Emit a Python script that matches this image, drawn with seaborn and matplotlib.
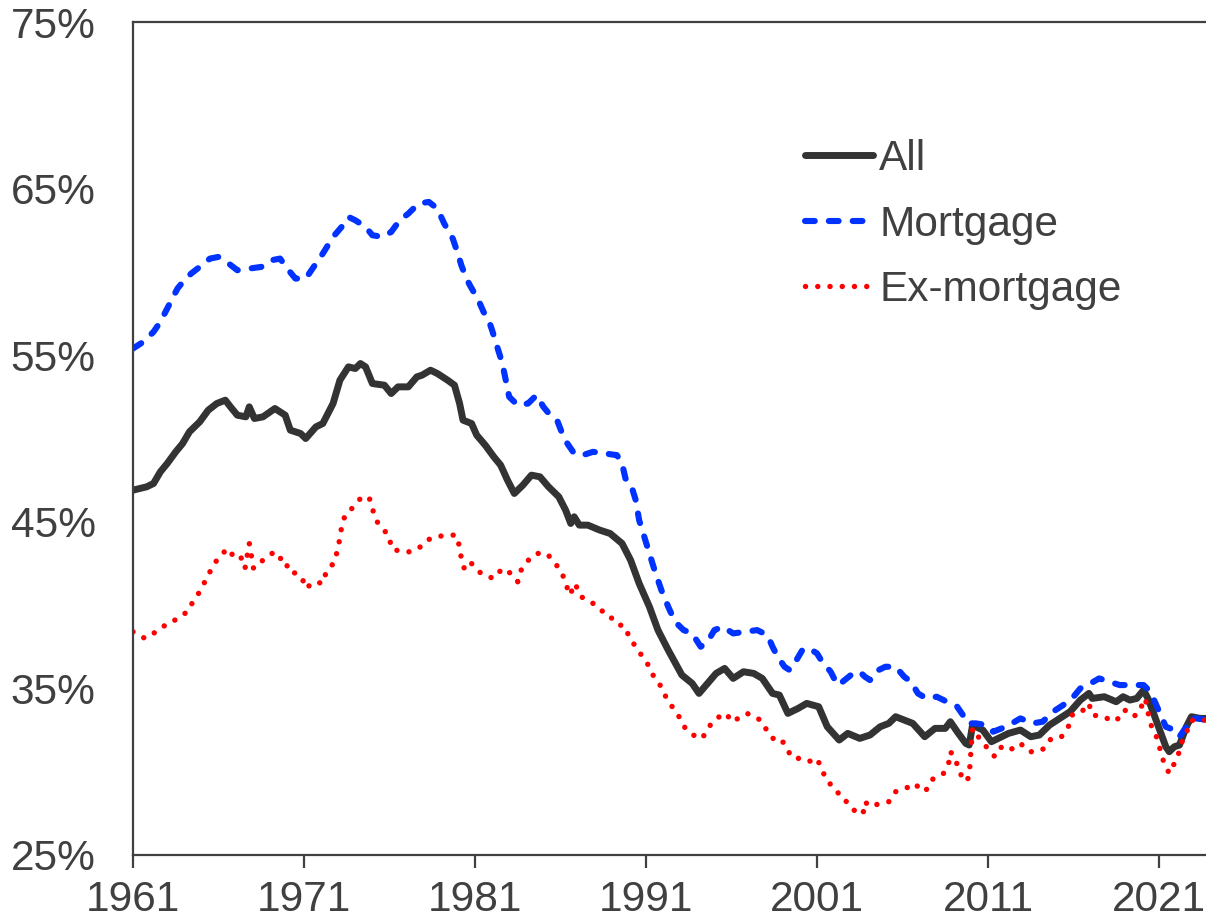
# Share of credit: all, mortgage and ex-mortgage, 1961-2023

import matplotlib
matplotlib.use('Agg')
import matplotlib.pyplot as plt
import seaborn as sns
import pandas as pd
from matplotlib.ticker import FuncFormatter

# --- data (percent) ---
all_x = [1961.0, 1961.8, 1962.2, 1962.6, 1963.0, 1963.5, 1963.9, 1964.3, 1964.9, 1965.4,
         1965.9, 1966.4, 1966.7, 1967.1, 1967.6, 1967.8, 1968.1, 1968.6, 1969.3, 1969.9,
         1970.2, 1970.8, 1971.1, 1971.7, 1972.1, 1972.7, 1973.1, 1973.6, 1974.0, 1974.3,
         1974.6, 1975.0, 1975.7, 1976.1, 1976.5, 1977.1, 1977.6, 1977.9, 1978.4, 1978.8,
         1979.4, 1979.8, 1980.1, 1980.3, 1980.8, 1981.1, 1981.6, 1982.1, 1982.5, 1982.9,
         1983.3, 1983.8, 1984.3, 1984.8, 1985.3, 1985.9, 1986.3, 1986.6, 1986.8, 1987.1,
         1987.6, 1988.3, 1988.9, 1989.6, 1990.1, 1990.6, 1991.2, 1991.7, 1992.3, 1993.1,
         1993.7, 1994.1, 1994.6, 1995.1, 1995.6, 1996.1, 1996.7, 1997.3, 1997.8, 1998.4,
         1998.8, 1999.3, 1999.9, 2000.4, 2001.1, 2001.6, 2002.3, 2002.8, 2003.5, 2004.1,
         2004.7, 2005.2, 2005.6, 2006.1, 2006.6, 2007.3, 2007.9, 2008.5, 2008.8, 2009.2,
         2009.7, 2009.9, 2010.1, 2010.7, 2011.2, 2011.8, 2012.2, 2012.9, 2013.5, 2014.0,
         2014.6, 2015.2, 2015.8, 2016.4, 2016.9, 2017.1, 2017.8, 2018.5, 2018.9, 2019.3,
         2019.7, 2020.1, 2020.4, 2020.9, 2021.4, 2021.6, 2021.9, 2022.2, 2022.6, 2022.9,
         2023.4, 2023.75]
all_v = [46.9, 47.1, 47.3, 48.0, 48.5, 49.2, 49.7, 50.4, 51.0, 51.7,
         52.1, 52.3, 51.9, 51.4, 51.3, 51.9, 51.2, 51.3, 51.8, 51.4,
         50.5, 50.3, 50.0, 50.7, 50.9, 52.1, 53.5, 54.3, 54.2, 54.5,
         54.3, 53.3, 53.2, 52.7, 53.1, 53.1, 53.7, 53.8, 54.1, 53.9,
         53.5, 53.2, 52.1, 51.1, 50.9, 50.2, 49.6, 48.9, 48.4, 47.5,
         46.7, 47.2, 47.8, 47.7, 47.1, 46.5, 45.7, 44.9, 45.3, 44.8,
         44.8, 44.5, 44.3, 43.7, 42.7, 41.3, 39.9, 38.5, 37.3, 35.8,
         35.3, 34.7, 35.3, 35.9, 36.2, 35.6, 36.0, 35.9, 35.6, 34.7,
         34.6, 33.5, 33.8, 34.1, 33.9, 32.7, 31.9, 32.3, 32.0, 32.2,
         32.7, 32.9, 33.3, 33.1, 32.9, 32.1, 32.6, 32.6, 33.0, 32.4,
         31.7, 31.6, 32.8, 32.5, 31.8, 32.1, 32.3, 32.5, 32.1, 32.2,
         32.8, 33.2, 33.6, 34.3, 34.7, 34.4, 34.5, 34.2, 34.5, 34.3,
         34.4, 34.9, 34.3, 32.9, 31.5, 31.2, 31.5, 31.6, 32.7, 33.3,
         33.2, 33.2]

mort_x = [1961.0, 1961.6, 1962.2, 1962.6, 1962.9, 1963.2, 1963.6, 1964.0, 1964.4, 1964.9,
          1965.5, 1966.0, 1966.6, 1967.1, 1967.8, 1968.5, 1969.1, 1969.6, 1970.1, 1970.5,
          1971.1, 1971.5, 1972.1, 1972.7, 1973.2, 1973.6, 1974.0, 1974.6, 1975.0, 1975.6,
          1976.1, 1976.6, 1977.1, 1977.7, 1978.3, 1978.8, 1979.2, 1979.7, 1980.0, 1980.2,
          1980.5, 1980.7, 1981.2, 1981.5, 1981.8, 1982.0, 1982.3, 1982.6, 1982.8, 1983.0,
          1983.5, 1984.1, 1984.6, 1985.0, 1985.4, 1985.8, 1986.1, 1986.4, 1986.8, 1987.3,
          1987.9, 1988.6, 1989.3, 1989.6, 1989.8, 1990.1, 1990.4, 1990.6, 1990.9, 1991.2,
          1991.5, 1991.9, 1992.3, 1992.7, 1993.2, 1993.7, 1994.2, 1994.6, 1995.0, 1995.5,
          1996.1, 1996.8, 1997.5, 1998.1, 1998.4, 1998.7, 1999.1, 1999.4, 1999.8, 2000.2,
          2000.7, 2001.0, 2001.3, 2001.8, 2002.2, 2002.5, 2003.1, 2003.5, 2003.8, 2004.1,
          2004.4, 2005.0, 2005.6, 2006.1, 2006.5, 2006.9, 2007.4, 2008.0, 2008.6, 2009.2,
          2009.6, 2009.8, 2010.3, 2010.9, 2011.3, 2011.8, 2012.4, 2012.9, 2013.6, 2014.2,
          2014.8, 2015.4, 2016.0, 2016.4, 2017.0, 2017.5, 2018.1, 2018.7, 2019.4, 2020.1,
          2020.5, 2020.8, 2021.1, 2021.4, 2021.9, 2022.2, 2022.6, 2022.9, 2023.3, 2023.75]
mort_v = [55.4, 55.8, 56.4, 57.0, 57.6, 58.2, 59.0, 59.5, 59.9, 60.3,
          60.8, 60.9, 60.5, 60.1, 60.2, 60.3, 60.7, 60.8, 60.1, 59.6,
          59.6, 60.2, 61.1, 62.1, 62.7, 63.3, 63.1, 62.7, 62.2, 62.1,
          62.4, 63.1, 63.5, 64.1, 64.2, 63.8, 62.9, 62.0, 61.1, 60.4,
          59.6, 59.2, 58.3, 57.6, 57.1, 56.5, 55.5, 54.5, 53.5, 52.5,
          52.0, 52.1, 52.6, 51.9, 51.4, 51.1, 50.3, 49.7, 49.1, 49.0,
          49.2, 49.1, 49.0, 48.5, 47.6, 47.3, 46.3, 45.1, 44.1, 43.1,
          42.1, 40.9, 39.9, 39.0, 38.5, 38.3, 37.5, 37.8, 38.5, 38.7,
          38.3, 38.4, 38.5, 38.2, 37.5, 36.9, 36.3, 36.1, 36.7, 37.4,
          37.3, 37.1, 36.6, 36.0, 35.2, 35.4, 35.9, 36.0, 35.7, 35.5,
          36.0, 36.3, 36.3, 35.7, 35.4, 34.7, 34.4, 34.5, 34.2, 33.9,
          33.3, 32.9, 32.9, 32.8, 32.4, 32.6, 32.9, 33.2, 32.9, 33.0,
          33.6, 34.0, 34.5, 35.0, 35.3, 35.6, 35.4, 35.2, 35.2, 35.2,
          34.8, 34.1, 33.4, 32.7, 32.5, 32.1, 32.7, 33.2, 33.2, 33.1]

ex_x = [1961.0, 1961.7, 1962.2, 1962.7, 1963.2, 1963.7, 1964.2, 1964.5, 1964.9, 1965.2,
        1965.5, 1965.9, 1966.1, 1966.5, 1967.0, 1967.3, 1967.55, 1967.8, 1968.05, 1968.4,
        1968.8, 1969.3, 1969.6, 1969.9, 1970.1, 1970.6, 1970.9, 1971.1, 1971.6, 1972.1,
        1972.3, 1972.8, 1973.1, 1973.2, 1973.4, 1973.9, 1974.3, 1974.8, 1975.0, 1975.2,
        1975.6, 1976.0, 1976.1, 1976.7, 1977.2, 1977.7, 1978.2, 1978.7, 1979.4, 1979.9,
        1980.1, 1980.2, 1980.4, 1980.8, 1981.0, 1981.5, 1982.1, 1982.6, 1983.1, 1983.5,
        1983.7, 1984.2, 1984.6, 1985.2, 1985.7, 1986.1, 1986.3, 1986.55, 1986.85, 1987.2,
        1987.8, 1988.3, 1988.8, 1989.2, 1989.8, 1990.0, 1990.4, 1990.8, 1991.2, 1991.5,
        1991.9, 1992.2, 1992.6, 1993.0, 1993.3, 1993.9, 1994.3, 1994.6, 1995.1, 1995.7,
        1996.0, 1996.4, 1996.9, 1997.4, 1997.8, 1998.1, 1998.4, 1998.9, 1999.2, 1999.6,
        2000.0, 2000.5, 2001.0, 2001.3, 2001.6, 2002.1, 2002.4, 2002.9, 2003.3, 2003.7,
        2003.8, 2004.1, 2004.7, 2005.2, 2005.6, 2006.2, 2006.7, 2007.2, 2007.5, 2007.8,
        2008.4, 2008.7, 2008.8, 2009.1, 2009.3, 2009.7, 2009.9, 2010.0, 2010.1, 2010.5,
        2010.9, 2011.4, 2011.8, 2012.1, 2012.5, 2012.9, 2013.4, 2013.9, 2014.3, 2014.7,
        2015.3, 2015.7, 2015.9, 2016.4, 2016.9, 2017.1, 2017.8, 2018.3, 2018.8, 2019.0,
        2019.5, 2019.9, 2020.1, 2020.3, 2020.4, 2020.6, 2020.9, 2021.1, 2021.3, 2021.6,
        2021.8, 2022.1, 2022.3, 2022.6, 2022.8, 2023.0, 2023.75]
ex_v = [38.4, 38.0, 38.3, 38.7, 38.9, 39.3, 39.6, 40.2, 40.8, 41.4,
        42.0, 42.7, 42.9, 43.4, 42.8, 42.9, 42.2, 43.7, 42.2, 42.5,
        42.9, 43.2, 42.8, 42.8, 42.0, 41.9, 41.6, 41.0, 41.4, 41.3,
        42.0, 42.6, 44.0, 44.7, 45.4, 45.9, 46.4, 46.5, 45.8, 45.1,
        44.6, 44.1, 43.4, 43.2, 43.2, 43.4, 43.9, 44.1, 44.2, 44.2,
        43.5, 42.8, 42.1, 42.5, 42.2, 41.8, 41.6, 42.2, 41.9, 41.4,
        42.1, 42.8, 43.1, 43.1, 42.5, 41.9, 41.3, 40.6, 41.3, 40.5,
        40.2, 39.7, 39.5, 38.9, 38.7, 38.1, 37.5, 36.9, 36.3, 35.6,
        35.1, 34.4, 33.8, 33.2, 32.6, 32.1, 32.0, 32.6, 33.2, 33.5,
        33.0, 33.2, 33.5, 33.3, 33.0, 32.4, 32.0, 32.0, 31.4, 30.8,
        30.8, 30.6, 30.8, 30.1, 29.4, 29.0, 28.4, 28.1, 27.5, 27.5,
        28.2, 27.9, 28.1, 28.2, 28.8, 29.0, 29.3, 28.8, 29.0, 29.6,
        29.9, 30.5, 31.2, 30.8, 30.0, 29.4, 29.7, 31.2, 32.6, 32.0,
        31.5, 30.9, 31.5, 31.3, 31.4, 31.7, 31.2, 31.2, 31.4, 32.0,
        32.1, 32.7, 33.4, 33.5, 34.1, 33.4, 33.3, 33.0, 33.3, 33.7,
        33.3, 33.6, 34.4, 34.1, 33.3, 32.6, 32.0, 31.2, 30.5, 29.9,
        30.3, 30.9, 31.7, 32.3, 33.0, 33.1, 33.1]

y_ticks = [25, 35, 45, 55, 65, 75]
x_ticks = [1961, 1971, 1981, 1991, 2001, 2011, 2021]

text_col = '#404040'

sns.set_style('white')
plt.rcParams['font.family'] = ['Liberation Sans', 'DejaVu Sans']
plt.rcParams['font.size'] = 30.5

fig = plt.figure(figsize=(12.06, 9.24), dpi=100)
ax = fig.add_axes([133 / 1206, 1 - 855 / 924, 1 - 133 / 1206, (855 - 22) / 924])

df_all = pd.DataFrame({'year': all_x, 'value': all_v})
df_mort = pd.DataFrame({'year': mort_x, 'value': mort_v})
df_ex = pd.DataFrame({'year': ex_x, 'value': ex_v})

sns.lineplot(data=df_all, x='year', y='value', ax=ax, color='#333333', linewidth=5.0,
             solid_capstyle='round', solid_joinstyle='round', estimator=None, label='All')
sns.lineplot(data=df_mort, x='year', y='value', ax=ax, color='#0033ff', linewidth=4.4,
             linestyle=(0, (1.6, 2.3)), dash_capstyle='round', dash_joinstyle='round',
             estimator=None, label='Mortgage')
sns.lineplot(data=df_ex, x='year', y='value', ax=ax, color='#ff0000', linewidth=3.9,
             linestyle=(0, (0.01, 2.25)), dash_capstyle='round',
             estimator=None, label='Ex-mortgage')

ax.set_xlim(1961, 2023.75)
ax.set_ylim(25, 75)
ax.set_xticks(x_ticks)
ax.set_yticks(y_ticks)
ax.yaxis.set_major_formatter(FuncFormatter(lambda v, p: f'{v:.0f}%'))
ax.set_xlabel('')
ax.set_ylabel('')

for side in ['left', 'bottom', 'top']:
    ax.spines[side].set_color(text_col)
    ax.spines[side].set_linewidth(1.6)
ax.spines['right'].set_visible(False)

ax.tick_params(axis='x', direction='out', length=9, width=1.6, color=text_col,
               labelcolor=text_col, pad=9, bottom=True)
ax.tick_params(axis='y', length=0, pad=27, labelcolor=text_col, left=False)

leg = ax.legend(loc='upper left', bbox_to_anchor=(784 / 1206, 1 - 118 / 924),
                bbox_transform=fig.transFigure, frameon=False, borderpad=0,
                handlelength=1.6, handletextpad=0.15, labelspacing=0.6,
                fontsize=30.5)
for t in leg.get_texts():
    t.set_color(text_col)

plt.savefig('out.png', dpi=100)
